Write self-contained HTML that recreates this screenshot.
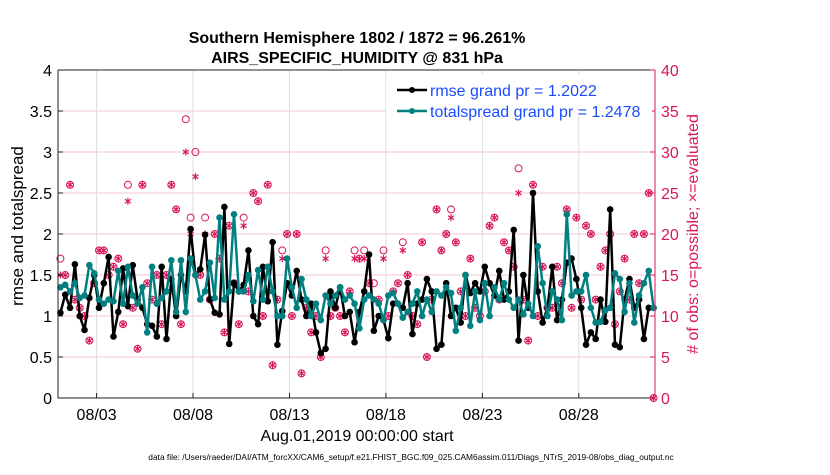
<!DOCTYPE html>
<html><head><meta charset="utf-8"><style>
body{margin:0;background:#fff;}
svg text{font-family:"Liberation Sans",sans-serif;}
</style></head><body>
<svg id="chart" width="830" height="470" viewBox="0 0 830 470" xmlns="http://www.w3.org/2000/svg">
<text x="357" y="43" text-anchor="middle" font-size="16" font-weight="bold">Southern Hemisphere 1802 / 1872 = 96.261%</text>
<text x="357" y="63" text-anchor="middle" font-size="16" font-weight="bold">AIRS_SPECIFIC_HUMIDITY @ 831 hPa</text>
<g id="grid"></g>
<g id="marks"></g>
<g id="axes"></g>
<text x="357" y="441" text-anchor="middle" font-size="16">Aug.01,2019 00:00:00 start</text>
<text transform="translate(23,226) rotate(-90)" text-anchor="middle" font-size="17">rmse and totalspread</text>
<text transform="translate(698,234) rotate(-90)" text-anchor="middle" font-size="16" fill="#d8175a"># of obs: o=possible; ×=evaluated</text>
<text x="411" y="460" text-anchor="middle" font-size="8.4">data file: /Users/raeder/DAI/ATM_forcXX/CAM6_setup/f.e21.FHIST_BGC.f09_025.CAM6assim.011/Diags_NTrS_2019-08/obs_diag_output.nc</text>
<g>
<rect x="386" y="74" width="266" height="42" fill="#fff"/>
<line x1="397" y1="90" x2="427" y2="90" stroke="#000" stroke-width="2.5"/><circle cx="412" cy="90" r="3" fill="#000"/>
<text x="430" y="96" font-size="16" fill="#1a4cff">rmse grand pr = 1.2022</text>
<line x1="397" y1="111" x2="427" y2="111" stroke="#008080" stroke-width="2.5"/><circle cx="412" cy="111" r="3" fill="#008080"/>
<text x="430" y="117" font-size="16" fill="#1a4cff">totalspread grand pr = 1.2478</text>
</g>
</svg>
<script>
const xTickLabels=["08/03","08/08","08/13","08/18","08/23","08/28"];
const xTickDays=[2,7,12,17,22,27];
const leftTicks=[0,0.5,1,1.5,2,2.5,3,3.5,4];
const leftTickLabels=["0","0.5","1","1.5","2","2.5","3","3.5","4"];
const rightTicks=[0,5,10,15,20,25,30,35,40];
const rmse=[1.04,1.26,1.10,1.63,1.00,0.83,1.22,1.50,1.10,1.40,
1.72,0.75,1.05,1.58,1.12,1.62,1.20,1.10,0.90,0.88,
0.75,1.60,0.72,1.45,1.00,1.50,1.30,2.06,1.50,1.57,
1.99,1.20,1.04,1.02,2.33,0.66,1.40,1.30,1.38,1.80,
1.00,0.90,1.60,1.18,1.90,0.65,1.06,1.40,1.25,1.55,
1.20,1.00,1.15,0.80,0.55,0.60,1.30,1.10,1.35,1.00,
1.05,0.68,1.05,1.30,1.75,0.82,1.00,0.95,0.73,1.15,
1.15,1.10,1.40,0.78,1.15,1.20,1.45,1.30,0.60,0.65,
1.40,1.00,1.10,0.92,1.50,1.28,1.40,1.30,1.60,1.40,
1.25,1.55,1.20,1.30,2.05,0.70,1.50,1.10,2.50,1.30,
0.92,1.10,1.60,0.95,1.20,1.65,1.70,1.45,1.10,0.65,
0.80,0.72,1.20,0.93,2.30,0.65,0.62,1.20,1.45,1.10,
1.20,0.72,1.10,1.10];
const spread=[1.35,1.38,1.30,1.40,1.22,1.25,1.62,1.52,1.20,1.15,
1.20,1.18,1.55,1.15,1.60,1.25,1.15,1.35,0.80,1.60,
1.15,1.22,1.30,1.68,1.05,1.68,1.05,1.70,1.50,1.20,
1.30,1.65,1.22,2.20,1.20,1.30,2.24,1.30,1.30,1.50,
1.18,1.56,1.20,1.60,1.30,1.00,1.00,1.70,1.35,1.10,
1.45,1.20,1.00,1.15,0.95,1.25,1.15,1.25,1.35,1.20,
1.25,1.15,0.85,1.20,1.25,1.20,1.15,0.95,1.25,1.28,
1.15,0.98,1.05,1.15,1.30,1.00,1.20,1.05,1.30,1.25,
1.35,1.28,0.82,1.10,1.50,0.88,1.30,0.95,1.40,1.00,
1.35,1.20,1.40,1.20,1.10,1.20,1.02,1.15,1.00,1.85,
1.40,1.00,1.30,1.20,0.95,2.24,1.25,1.30,1.30,1.50,
1.10,0.92,0.93,1.07,1.10,1.52,1.45,1.05,1.40,0.92,
1.25,1.40,1.55,1.10];
const nPossible=[17,15,26,12,11,10,7,14,18,18,
15,16,17,9,26,11,6,26,14,12,
15,9,15,26,23,9,34,22,30,15,
22,12,20,17,8,21,14,9,22,13,
25,24,10,26,4,12,18,20,10,20,
3,11,8,10,5,18,10,11,10,8,
13,18,17,18,14,14,12,18,10,13,
14,19,15,10,9,19,5,12,23,18,
20,23,19,13,10,17,11,10,13,21,
22,12,19,18,16,28,12,7,26,10,
16,11,11,16,14,23,11,22,12,21,
20,12,16,18,20,9,13,17,12,20,
14,20,25,0];
const nUsed=[15,15,26,12,11,10,7,14,18,18,
15,16,17,9,24,11,6,26,14,12,
15,9,15,26,23,9,30,20,27,15,
20,12,20,17,8,21,14,9,21,13,
25,24,10,26,4,12,17,20,10,20,
3,11,8,10,5,17,10,11,10,8,
13,17,17,17,14,12,12,17,10,13,
14,18,15,10,9,19,5,12,23,18,
20,22,19,13,10,17,11,10,13,21,
22,12,19,18,16,25,12,7,26,10,
16,11,11,16,14,23,11,22,12,21,
20,12,16,18,20,9,13,17,12,20,
14,20,25,0];
const X0=58,X1=655,Y0=398,Y1=70,DAYS=30.95;
function xs(t){return X0+(t/DAYS)*(X1-X0);}
function yl(v){return Y0-(v/4)*(Y0-Y1);}
function yr(v){return Y0-(v/40)*(Y0-Y1);}
function tOf(k){return (k+0.5)*0.25;}
const NS="http://www.w3.org/2000/svg";
function mk(tag,attrs,parent){const e=document.createElementNS(NS,tag);for(const a in attrs)e.setAttribute(a,attrs[a]);parent.appendChild(e);return e;}
const gridG=document.getElementById('grid'),marksG=document.getElementById('marks'),axesG=document.getElementById('axes');
leftTicks.forEach(v=>{if(v>0&&v<4){const l=mk('line',{x1:X0,x2:X1,y1:yl(v),y2:yl(v),stroke:'#f3c6d4','stroke-width':1},gridG);

}});
xTickDays.forEach(d=>{const l=mk('line',{x1:xs(d),x2:xs(d),y1:Y1,y2:Y0,stroke:'#dcdcdc','stroke-width':1},gridG);

});
nPossible.forEach((v,k)=>{const c=mk('circle',{cx:xs(tOf(k)),cy:yr(v),r:3.5,fill:'none',stroke:'#d8175a','stroke-width':1},marksG);

});
nUsed.forEach((v,k)=>{const x=xs(tOf(k)),y=yr(v);const g=mk('g',{stroke:'#d8175a','stroke-width':1.2},marksG);


mk('line',{x1:x,x2:x,y1:y-3.5,y2:y+3.5},g);mk('line',{x1:x-3,x2:x+3,y1:y-2,y2:y+2},g);mk('line',{x1:x-3,x2:x+3,y1:y+2,y2:y-2},g);});
function series(vals,color,name){const pts=vals.map((v,k)=>xs(tOf(k)).toFixed(1)+','+yl(v).toFixed(1)).join(' ');
const p=mk('polyline',{points:pts,fill:'none',stroke:color,'stroke-width':2.5,'stroke-linejoin':'round'},marksG);


vals.forEach((v,k)=>{const c=mk('circle',{cx:xs(tOf(k)),cy:yl(v),r:3.3,fill:color},marksG);

});}
series(rmse,'#000','rmse');
series(spread,'#008080','totalspread');
const axPath=mk('path',{d:`M${X0},${Y1}L${X0},${Y0}L${X1},${Y0}`,fill:'none',stroke:'#222','stroke-width':1},axesG);


const topAxis=mk('line',{x1:X0,x2:X1,y1:Y1,y2:Y1,stroke:'#222','stroke-width':1},axesG);


const rightAxis=mk('line',{x1:X1,x2:X1,y1:Y1,y2:Y0,stroke:'#d8175a','stroke-width':1},axesG);


leftTicks.forEach((v,i)=>{mk('line',{x1:X0,x2:X0+5,y1:yl(v),y2:yl(v),stroke:'#222'},axesG);
const t=mk('text',{x:X0-6,y:yl(v)+6,'text-anchor':'end','font-size':16},axesG);t.textContent=leftTickLabels[i];

});
rightTicks.forEach(v=>{mk('line',{x1:X1-5,x2:X1,y1:yr(v),y2:yr(v),stroke:'#d8175a'},axesG);
const t=mk('text',{x:X1+6,y:yr(v)+6,'font-size':16,fill:'#d8175a'},axesG);t.textContent=String(v);

});
xTickDays.forEach((d,i)=>{mk('line',{x1:xs(d),x2:xs(d),y1:Y0,y2:Y0-5,stroke:'#222'},axesG);
const t=mk('text',{x:xs(d),y:Y0+22,'text-anchor':'middle','font-size':16},axesG);t.textContent=xTickLabels[i];

});
</script>
</body></html>
